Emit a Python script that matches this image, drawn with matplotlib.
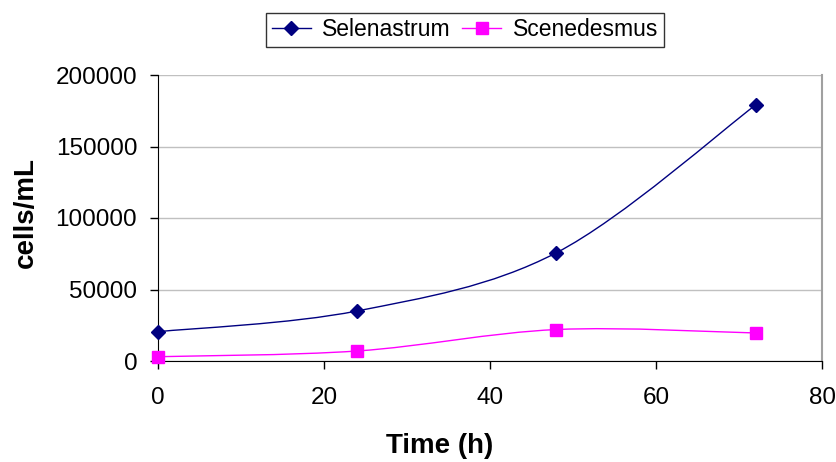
import numpy as np
import matplotlib
matplotlib.use('Agg')
import matplotlib.pyplot as plt
from matplotlib.path import Path
from matplotlib.patches import PathPatch
from matplotlib.lines import Line2D

time_h = [0, 24, 48, 72]
selenastrum = [20500, 35000, 75700, 179000]
scenedesmus = [3000, 7000, 22000, 19600]

plt.rcParams['font.family'] = ['Liberation Sans', 'DejaVu Sans']

W, H = 836, 462


def smooth_path(x, y):
    # excel-style smoothed line: cubic bezier through the points
    pts = np.column_stack([x, y]).astype(float)
    verts = [pts[0]]
    codes = [Path.MOVETO]
    n = len(pts)
    for i in range(n - 1):
        p0 = pts[i - 1] if i > 0 else pts[i]
        p1 = pts[i]
        p2 = pts[i + 1]
        p3 = pts[i + 2] if i + 2 < n else pts[i + 1]
        c1 = p1 + (p2 - p0) / 6.0
        c2 = p2 - (p3 - p1) / 6.0
        verts += [c1, c2, p2]
        codes += [Path.CURVE4] * 3
    return Path(verts, codes)


fig = plt.figure(figsize=(W / 100, H / 100), dpi=100)
ax = fig.add_axes([158 / W, 1 - 361 / H, (822 - 158) / W, (361 - 75) / H])

series = [
    ('Selenastrum', selenastrum, '#000080', 'D', 7.5),
    ('Scenedesmus', scenedesmus, '#ff00ff', 's', 8.5),
]
handles = []
for name, vals, col, mk, ms in series:
    ax.add_patch(PathPatch(smooth_path(time_h, vals), fill=False, edgecolor=col, lw=1.0, zorder=3))
    ax.plot(time_h, vals, ls='none', marker=mk, ms=ms, color=col, zorder=4, clip_on=False)
    handles.append(Line2D([], [], color=col, lw=1.0, marker=mk, ms=ms, label=name))

ax.set_xlim(0, 80)
ax.set_ylim(0, 200000)
ax.set_xticks([0, 20, 40, 60, 80])
ax.set_yticks([0, 50000, 100000, 150000, 200000])
ax.yaxis.grid(True, color='#c0c0c0', lw=1)
ax.set_axisbelow(True)
ax.spines['top'].set_visible(False)
ax.spines['right'].set_color('#a0a0a0')
ax.spines['right'].set_linewidth(1.5)
ax.spines['left'].set_color('black')
ax.spines['bottom'].set_color('black')
ax.tick_params(axis='both', direction='out', length=5.5, width=1, labelsize=17.5)
ax.tick_params(axis='y', pad=9.5)
ax.tick_params(axis='x', pad=13)

# axis titles placed where the reference has them
fig.text(440 / W, 1 - 453 / H, 'Time (h)', fontsize=20, fontweight='bold',
         ha='center', va='baseline')
fig.text(33 / W, 1 - 212 / H, 'cells/mL', fontsize=20, fontweight='bold',
         ha='center', va='baseline', rotation=90, rotation_mode='anchor')

leg = fig.legend(handles=handles, loc='center', bbox_to_anchor=(465 / W, 1 - 30 / H),
                 ncol=2, fontsize=16.5, frameon=True, fancybox=False, edgecolor='black',
                 borderpad=0.25, handlelength=1.7, columnspacing=0.5, handletextpad=0.5,
                 borderaxespad=0)
leg.get_frame().set_linewidth(1.0)

fig.savefig('out.png', dpi=100, facecolor='white')
